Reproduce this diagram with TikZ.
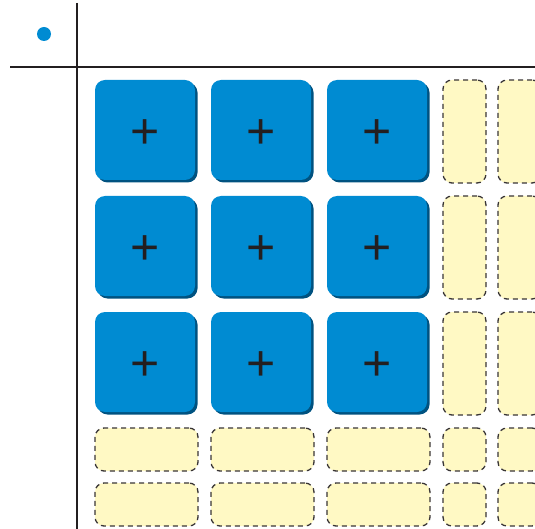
\documentclass[tikz,border=0pt]{standalone}
\usepackage{fontspec}
\setmainfont{Liberation Sans}
\usepackage{tikz}
\usetikzlibrary{shadows}
\definecolor{tileblue}{RGB}{0,139,210}
\definecolor{tileshade}{RGB}{0,82,128}
\definecolor{slotbg}{RGB}{255,249,196}
\definecolor{inkgray}{RGB}{35,31,32}

\begin{document}
\begin{tikzpicture}[x=1pt, y=-1pt,
    tile/.style={rectangle, rounded corners=10pt, fill=tileblue, minimum width=100pt, minimum height=100pt, inner sep=0pt, font=\fontsize{50}{50}\selectfont, text=inkgray, text height=36.5pt, text depth=0pt, drop shadow={shadow xshift=2.5pt, shadow yshift=-2.5pt, fill=tileshade, opacity=1}},
    slot/.style={rectangle, rounded corners=9pt, fill=slotbg, draw=inkgray!90, dash pattern=on 5pt off 4pt, line width=1.3pt, inner sep=0pt},
    axis/.style={line width=2pt, draw=inkgray}
]
    \useasboundingbox (0,0) rectangle (535,529);
    \clip (0,0) rectangle (535,529);

    % Axes and corner dot
    \coordinate (vtop) at (77,3);
    \coordinate (vbot) at (77,529);
    \coordinate (hleft) at (10,67);
    \coordinate (hright) at (535,67);
    \draw[axis] (vtop) -- (vbot);
    \draw[axis] (hleft) -- (hright);
    \fill[tileblue] (44,34) circle (7);

    % Blue tiles
    \foreach \r in {0,1,2}
        \foreach \c in {0,1,2}
            \node[tile] (tile-\r-\c) at ({145+116*\c},{130+116*\r}) {+};

    % Empty slots to the right
    \foreach \r in {0,1,2} {
        \node[slot, minimum width=43pt, minimum height=103pt] (slotA-\r) at (464.5,{131.5+116*\r}) {};
        \node[slot, minimum width=43pt, minimum height=103pt] (slotB-\r) at (519.5,{131.5+116*\r}) {};
    }

    % Empty slots below
    \foreach \c in {0,1,2} {
        \node[slot, minimum width=103pt, minimum height=43pt] (slotC-\c) at ({146.5+116*\c},449.5) {};
        \node[slot, minimum width=103pt, minimum height=43pt] (slotD-\c) at ({146.5+116*\c},504.5) {};
    }

    % Corner slots
    \node[slot, minimum width=43pt, minimum height=43pt] (slotE-0) at (464.5,449.5) {};
    \node[slot, minimum width=43pt, minimum height=43pt] (slotE-1) at (519.5,449.5) {};
    \node[slot, minimum width=43pt, minimum height=43pt] (slotE-2) at (464.5,504.5) {};
    \node[slot, minimum width=43pt, minimum height=43pt] (slotE-3) at (519.5,504.5) {};
\end{tikzpicture}
\end{document}
